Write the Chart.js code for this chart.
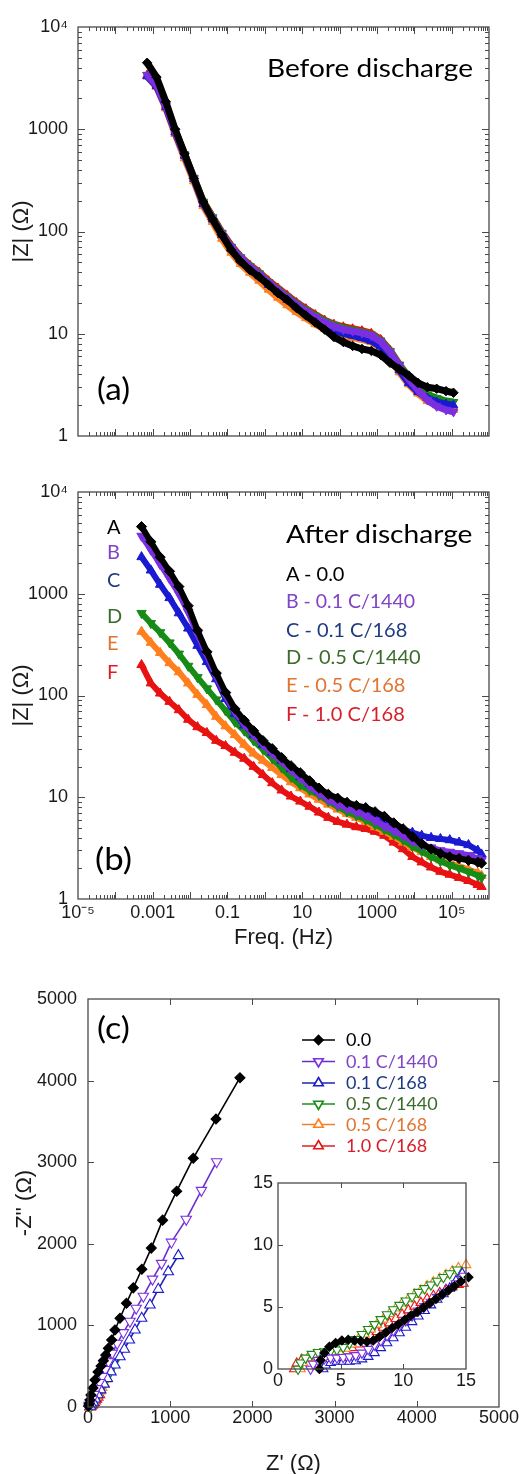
<!DOCTYPE html>
<html>
<head>
<meta charset="utf-8">
<title>Impedance before and after discharge</title>
<script src="https://cdn.jsdelivr.net/npm/chart.js@4.4.1/dist/chart.umd.min.js"></script>
<style>
  html, body { margin: 0; padding: 0; background: #fff; }
  #page { position: relative; width: 519px; height: 1474px; overflow: hidden; }
  #page canvas { position: absolute; }
  .note { position: absolute; white-space: nowrap; line-height: 1; font-family: Lato, sans-serif; }
</style>
</head>
<body>
<div id="page">
  <canvas id="chartA" width="519" height="470" style="left:0;top:0"></canvas>
  <canvas id="chartB" width="519" height="491" style="left:0;top:460px"></canvas>
  <canvas id="chartC" width="519" height="517" style="left:0;top:960px"></canvas>
  <canvas id="chartInset" width="240" height="240" style="left:240px;top:1160px"></canvas>
</div>
<script>
// series names / colours
const letters = ['A', 'B', 'C', 'D', 'E', 'F'];
const rates = ['0.0', '0.1 C/1440', '0.1 C/168', '0.5 C/1440', '0.5 C/168', '1.0 C/168'];
const markColors = ['#000000', '#7b2fe0', '#1a1ad0', '#168c16', '#ff7f1e', '#e81212'];
const lineColors = ['#000000', '#6a2fd0', '#2323b0', '#1f8f1f', '#f08030', '#e02020'];
const textColors = ['#000000', '#8044c4', '#1f3b80', '#3c6b2c', '#e07532', '#d81e2a'];

// tick labels
const zTickExp = [0, 1, 2, 3, 4];
const zTickText = ['1', '10', '100', '1000', '10\u2074'];
const fTickExp = [-5, -3, -1, 1, 3, 5];
const fTickText = ['10\u207B\u2075', '0.001', '0.1', '10', '1000', '10\u2075'];
const nyqTicks = [0, 1000, 2000, 3000, 4000, 5000];
const insetTicks = [0, 5, 10, 15];

// (a) before discharge, |Z| vs frequency
const freqA = [7.08e-4, 1.26e-3, 2.24e-3, 3.98e-3, 7.08e-3, 0.0126, 0.0224, 0.0398, 0.0708, 0.126,
  0.224, 0.398, 0.708, 1.26, 2.24, 3.98, 7.08, 12.6, 22.4, 39.8,
  70.8, 126, 224, 398, 708, 1260, 2240, 3980, 7080, 12600,
  22400, 39800, 70800, 112000];
const bfA = [4470, 3240, 1860, 1000, 575, 331, 195, 132, 93, 66, 51, 42, 36, 30, 25, 21.4, 17.8, 15.1, 12.9, 11.0,
  9.3, 8.3, 7.6, 7.1, 6.8, 6.2, 5.2, 4.5, 3.9, 3.3, 3.0, 2.9, 2.75, 2.65];
const bfB = [3400, 2700, 1700, 950, 560, 330, 190, 134, 95, 70, 55, 45, 38, 31.5, 26.5, 22.5, 19.3, 16.6, 14.5, 12.9,
  11.8, 11, 10.6, 10.2, 9.6, 8.4, 6.6, 4.9, 3.6, 2.8, 2.25, 1.95, 1.8, 1.72];
const bfC = [3300, 2650, 1650, 930, 550, 326, 186, 131, 92, 68, 53, 43.5, 36.5, 30, 25.5, 21.5, 18.3, 15.6, 13.6, 12.0,
  10.8, 10.1, 9.6, 9.1, 8.5, 7.5, 5.9, 4.4, 3.3, 2.7, 2.35, 2.15, 2.05, 2.0];
const bfD = [3400, 2700, 1720, 960, 570, 335, 196, 138, 97, 71, 56, 46, 39, 32, 27, 23, 19.7, 17, 15, 13.3,
  12.2, 11.4, 10.9, 10.4, 9.8, 8.6, 6.8, 5.0, 3.8, 3.0, 2.55, 2.35, 2.2, 2.15];
const bfE = [3300, 2600, 1600, 900, 520, 310, 178, 124, 85, 62, 48, 39.5, 33, 27, 22.5, 19, 16.3, 14.2, 12.4, 11.1,
  10.2, 9.6, 9.2, 8.8, 8.3, 7.3, 5.7, 4.2, 3.2, 2.6, 2.2, 2.0, 1.88, 1.8];
const bfF = [3400, 2720, 1720, 970, 575, 338, 198, 140, 99, 73, 57, 47, 40, 33, 28, 23.8, 20.2, 17.6, 15.4, 13.6,
  12.4, 11.7, 11.2, 10.7, 10.1, 8.8, 6.9, 5.0, 3.7, 2.9, 2.4, 2.15, 2.0, 1.9];

// (b) after discharge
const freqB = [5.01e-4, 8.91e-4, 1.58e-3, 2.82e-3, 5.01e-3, 8.91e-3, 0.0158, 0.0282, 0.0501, 0.0891,
  0.158, 0.282, 0.501, 0.891, 1.58, 2.82, 5.01, 8.91, 15.8, 28.2,
  50.1, 89.1, 158, 282, 501, 891, 1580, 2820, 5010, 8910,
  15800, 28200, 50100, 89100, 158000, 282000, 501000, 631000];
const afA = [4570, 3240, 2290, 1660, 1175, 760, 437, 269, 166, 107, 74, 57, 45, 36, 30, 24.5, 20.4, 17.4, 14.5, 12.3,
  10.7, 9.8, 8.9, 8.3, 7.9, 7.2, 6.5, 5.6, 4.9, 4.1, 3.5, 3.1, 2.8, 2.6, 2.5, 2.4, 2.3, 2.25];
const afB = [3700, 2700, 1950, 1410, 1000, 660, 400, 250, 155, 100, 69, 52, 41, 33, 27, 22.4, 18.6, 15.5, 12.9, 11.0,
  9.5, 8.5, 7.8, 7.2, 6.6, 5.9, 5.2, 4.7, 4.2, 3.7, 3.4, 3.2, 3.0, 2.9, 2.8, 2.7, 2.5, 2.4];
const afC = [2300, 1700, 1230, 910, 645, 457, 309, 214, 145, 93, 66, 51, 41, 33, 27.5, 23, 19, 15.8, 13.5, 11.5,
  10, 8.9, 8.1, 7.6, 7.1, 6.5, 5.9, 5.2, 4.8, 4.5, 4.2, 4.0, 3.9, 3.8, 3.6, 3.4, 3.0, 2.75];
const afD = [645, 513, 417, 331, 257, 195, 151, 117, 91, 71, 55, 45, 36, 29.5, 24, 19.5, 15.8, 13.2, 11.7, 10.5,
  9.1, 8.1, 7.2, 6.6, 6.0, 5.4, 4.8, 4.3, 3.8, 3.3, 2.95, 2.6, 2.35, 2.15, 2.0, 1.85, 1.7, 1.62];
const afE = [425, 331, 263, 209, 170, 132, 102, 81, 62, 50, 41, 33, 27, 23, 19.5, 16.6, 14.1, 12.3, 10.7, 9.5,
  8.5, 7.6, 6.9, 6.3, 5.75, 5.1, 4.6, 4.1, 3.6, 3.2, 2.9, 2.6, 2.4, 2.25, 2.1, 1.95, 1.8, 1.7];
const afF = [200, 132, 105, 87, 72, 58, 49, 43, 36, 32, 27.5, 24, 20, 16.6, 13.8, 11.7, 10.2, 9.1, 8.1, 7.1,
  6.3, 5.75, 5.4, 5.1, 4.9, 4.6, 4.2, 3.6, 3.1, 2.6, 2.3, 2.05, 1.86, 1.74, 1.62, 1.51, 1.38, 1.32];

// (c) Nyquist, [Z', -Z'']
const nyqA = [[1849, 4036], [1557, 3529], [1281, 3049], [1079, 2645], [908, 2290], [770, 1947], [655, 1688], [551, 1460],
  [468, 1272], [389, 1087], [328, 944], [288, 821], [247, 719], [215, 637], [187, 567], [158, 502], [122, 429],
  [85, 331], [61, 233], [36, 147], [24, 86], [12, 37], [6, 12]];
const nyqB = [[1565, 3006], [1380, 2655], [1195, 2300], [1015, 2020], [895, 1760], [785, 1567], [673, 1358], [586, 1210],
  [510, 1050], [430, 911], [355, 781], [295, 660], [250, 555], [210, 460], [175, 375], [140, 300], [105, 225],
  [75, 155], [50, 95], [30, 50], [15, 20]];
const nyqC = [[1099, 1855], [977, 1658], [855, 1442], [754, 1250], [653, 1087], [572, 944], [503, 821], [442, 707],
  [389, 616], [328, 515], [280, 430], [235, 350], [195, 280], [155, 210], [120, 150], [90, 98], [65, 58], [45, 28], [30, 10]];
const nyqD = [[330, 560], [290, 480], [252, 405], [218, 338], [188, 280], [160, 228], [135, 183], [112, 143], [92, 108],
  [74, 78], [58, 53], [45, 33], [34, 18], [25, 7]];
const nyqE = [[225, 345], [195, 290], [168, 240], [144, 197], [122, 160], [102, 126], [85, 97], [70, 72], [57, 51],
  [46, 34], [36, 20], [28, 9]];
const nyqF = [[140, 150], [120, 120], [103, 95], [88, 73], [75, 55], [63, 40], [53, 28], [44, 18], [36, 10], [29, 4], [23, 1]];

// inset, high-frequency end
const insA = [[3.3, 0], [3.4, 0.7], [3.7, 1.3], [4.1, 1.8], [4.6, 2.1], [5.1, 2.3], [5.6, 2.35], [6.1, 2.3], [6.6, 2.25],
  [7.1, 2.2], [7.6, 2.3], [8.1, 2.6], [8.6, 2.95], [9.1, 3.3], [9.6, 3.6], [10.1, 3.95], [10.6, 4.3], [11.1, 4.6],
  [11.6, 4.95], [12.1, 5.3], [12.6, 5.65], [13.1, 6.0], [13.6, 6.35], [14.1, 6.7], [14.6, 7.05], [15.2, 7.4]];
const insB = [[2.6, 0], [2.8, 0.4], [3.2, 0.7], [3.7, 0.85], [4.2, 0.9], [4.7, 0.9], [5.2, 0.95], [5.7, 1.0], [6.2, 1.1],
  [6.7, 1.3], [7.2, 1.6], [7.7, 1.95], [8.2, 2.3], [8.7, 2.7], [9.2, 3.1], [9.7, 3.5], [10.2, 3.9], [10.7, 4.3],
  [11.2, 4.7], [11.7, 5.05], [12.2, 5.4], [12.7, 5.8], [13.2, 6.15], [13.7, 6.5], [14.2, 6.9], [14.8, 7.5]];
const insC = [[3.6, 0], [3.8, 0.3], [4.2, 0.5], [4.7, 0.6], [5.2, 0.6], [5.7, 0.6], [6.2, 0.65], [6.7, 0.8], [7.2, 1.0],
  [7.7, 1.3], [8.2, 1.7], [8.7, 2.1], [9.2, 2.5], [9.7, 2.9], [10.2, 3.35], [10.7, 3.8], [11.2, 4.25], [11.7, 4.7],
  [12.2, 5.15], [12.7, 5.6], [13.2, 6.05], [13.7, 6.5], [14.2, 7.1], [14.7, 7.7]];
const insD = [[1.6, 0], [1.8, 0.5], [2.2, 0.9], [2.7, 1.2], [3.2, 1.35], [3.7, 1.4], [4.2, 1.45], [4.7, 1.55], [5.2, 1.75],
  [5.7, 2.05], [6.2, 2.4], [6.7, 2.8], [7.2, 3.2], [7.7, 3.6], [8.2, 4.0], [8.7, 4.4], [9.2, 4.8], [9.7, 5.15],
  [10.2, 5.5], [10.7, 5.85], [11.2, 6.2], [11.7, 6.5], [12.2, 6.8], [12.7, 7.1], [13.2, 7.4], [13.7, 7.7], [14.3, 8.0]];
const insE = [[1.8, 0], [2.0, 0.5], [2.4, 0.9], [2.9, 1.15], [3.4, 1.2], [3.9, 1.2], [4.4, 1.25], [4.9, 1.4], [5.4, 1.65],
  [5.9, 2.0], [6.4, 2.4], [6.9, 2.8], [7.4, 3.2], [7.9, 3.6], [8.4, 4.0], [8.9, 4.45], [9.4, 4.9], [9.9, 5.3],
  [10.4, 5.65], [10.9, 6.0], [11.4, 6.35], [11.9, 6.7], [12.4, 7.0], [12.9, 7.3], [13.4, 7.6], [13.9, 7.9], [14.4, 8.15], [15.0, 8.4]];
const insF = [[1.3, 0], [1.5, 0.45], [1.9, 0.75], [2.4, 0.9], [2.9, 0.95], [3.4, 0.95], [3.9, 1.0], [4.4, 1.1], [4.9, 1.25],
  [5.4, 1.45], [5.9, 1.7], [6.4, 2.0], [6.9, 2.3], [7.4, 2.65], [7.9, 3.0], [8.4, 3.35], [8.9, 3.7], [9.4, 4.05],
  [9.9, 4.4], [10.4, 4.75], [10.9, 5.05], [11.4, 5.35], [11.9, 5.65], [12.4, 5.9], [12.9, 6.15], [13.4, 6.4], [13.9, 6.6],
  [14.4, 6.8], [14.8, 6.9]];

const styles = ['rectRot', 'triangle', 'triangle', 'triangle', 'triangle', 'triangle'];
const rots = [0, 180, 0, 180, 0, 0];
const axisFont = "'Liberation Sans', Arial, sans-serif";

// inward tick marks on all four sides + frame
const boxTicks = {
  id: 'boxTicks',
  afterDraw(chart, args, opts) {
    const { ctx, chartArea: a } = chart;
    ctx.save();
    ctx.strokeStyle = '#4a4a4a';
    ctx.lineWidth = 1;
    ctx.beginPath();
    ['x', 'y'].forEach(id => {
      const s = chart.scales[id];
      s.ticks.forEach(t => {
        const len = t.big === false ? opts.minor : opts.major;
        const p = Math.round(s.getPixelForValue(t.value)) + 0.5;
        if (id === 'x') {
          if (p < a.left + 1 || p > a.right - 1) return;
          ctx.moveTo(p, a.bottom); ctx.lineTo(p, a.bottom - len);
          ctx.moveTo(p, a.top); ctx.lineTo(p, a.top + len);
        } else {
          if (p < a.top + 1 || p > a.bottom - 1) return;
          ctx.moveTo(a.left, p); ctx.lineTo(a.left + len, p);
          ctx.moveTo(a.right, p); ctx.lineTo(a.right - len, p);
        }
      });
    });
    ctx.stroke();
    ctx.lineWidth = 1.3;
    ctx.strokeRect(a.left, a.top, a.right - a.left, a.bottom - a.top);
    ctx.restore();
  }
};

function decadeTicks(e0, e1, exps, texts) {
  const out = [];
  for (let e = e0; e <= e1; e++) {
    for (let m = 1; m <= 9; m++) {
      if (e === e1 && m > 1) break;
      const k = exps.indexOf(e);
      out.push({ value: m * Math.pow(10, e), big: m === 1, lbl: m === 1 && k >= 0 ? texts[k] : '' });
    }
  }
  return out;
}

function axisTitle(text, pad) {
  if (!text) return { display: false };
  return { display: true, text, color: '#1a1a1a', font: { family: axisFont, size: 22 }, padding: pad };
}

function logScale(axis, e0, e1, exps, texts, size, pad, title, titlePad) {
  const horiz = axis === 'x';
  return {
    type: 'logarithmic', position: horiz ? 'bottom' : 'left',
    min: Math.pow(10, e0), max: Math.pow(10, e1),
    afterBuildTicks: s => { s.ticks = decadeTicks(e0, e1, exps, texts); },
    afterFit: s => { if (horiz) s.height = size; else s.width = size; },
    grid: { display: false, drawTicks: false }, border: { display: false },
    ticks: { autoSkip: false, maxRotation: 0, minRotation: 0, padding: pad, color: '#1a1a1a',
      font: { family: axisFont, size: 18 }, callback: (v, i, t) => (t[i] && t[i].lbl) || '' },
    title: axisTitle(title, titlePad)
  };
}

function linScale(axis, max, tickVals, size, pad, title, titlePad) {
  const horiz = axis === 'x';
  return {
    type: 'linear', position: horiz ? 'bottom' : 'left', min: 0, max,
    afterBuildTicks: s => { s.ticks = tickVals.map(v => ({ value: v })); },
    afterFit: s => { if (horiz) s.height = size; else s.width = size; },
    grid: { display: false, drawTicks: false }, border: { display: false },
    ticks: { autoSkip: false, maxRotation: 0, minRotation: 0, padding: pad, color: '#1a1a1a',
      font: { family: axisFont, size: 18 }, callback: v => String(v) },
    title: axisTitle(title, titlePad)
  };
}

function baseOptions(pad, scales, tickLen) {
  return {
    responsive: false, animation: false, devicePixelRatio: 1, events: [],
    layout: { padding: pad },
    plugins: { legend: { display: false }, tooltip: { enabled: false }, boxTicks: tickLen },
    scales
  };
}

function bandSets(freq, series, radius, lw) {
  return series.map((ys, i) => ({
    label: letters[i] + ' - ' + rates[i],
    data: freq.map((f, j) => ({ x: f, y: ys[j] })),
    showLine: true, borderColor: markColors[i], borderWidth: lw,
    backgroundColor: markColors[i],
    pointStyle: styles[i], pointRotation: rots[i],
    pointRadius: i === 0 ? radius - 0.3 : radius,
    pointBackgroundColor: markColors[i], pointBorderColor: markColors[i], pointBorderWidth: 1
  }));
}

function nyqSets(series, rDiamond, rTri, lw) {
  return series.map((pts, i) => ({
    label: rates[i],
    data: pts.map(p => ({ x: p[0], y: p[1] })),
    showLine: true, borderColor: lineColors[i], borderWidth: lw, clip: false,
    pointStyle: styles[i], pointRotation: rots[i],
    pointRadius: i === 0 ? rDiamond : rTri,
    pointBackgroundColor: i === 0 ? '#000' : '#fff',
    pointBorderColor: markColors[i], pointBorderWidth: 1.1
  }));
}

// legend of panel (c): line + marker, text as html below
const legendRowsY = [80, 101.5, 123, 144, 164.5, 186];
const legendC = {
  id: 'legendC',
  afterDraw(chart) {
    const ctx = chart.ctx;
    legendRowsY.forEach((y, i) => {
      ctx.save();
      ctx.strokeStyle = lineColors[i];
      ctx.lineWidth = 1.6;
      ctx.beginPath(); ctx.moveTo(302, y); ctx.lineTo(335, y); ctx.stroke();
      ctx.fillStyle = i === 0 ? '#000' : '#fff';
      ctx.strokeStyle = markColors[i];
      Chart.helpers.drawPoint(ctx, { pointStyle: styles[i], rotation: rots[i],
        radius: i === 0 ? 4.5 : 5.5, borderWidth: 1.1 }, 318.5, y);
      ctx.restore();
    });
  }
};

new Chart(document.getElementById('chartA'), {
  type: 'scatter',
  data: { datasets: bandSets(freqA, [bfA, bfB, bfC, bfD, bfE, bfF], 5, 7) },
  options: baseOptions({ top: 27, right: 30, left: 0, bottom: 0 }, {
    x: logScale('x', -5, 6, [], [], 34, 3, null),
    y: logScale('y', 0, 4, zTickExp, zTickText, 78, 10, '|Z| (\u03A9)', { top: 9, bottom: 0 })
  }, { major: 7, minor: 4 }),
  plugins: [boxTicks]
});

new Chart(document.getElementById('chartB'), {
  type: 'scatter',
  data: { datasets: bandSets(freqB, [afA, afB, afC, afD, afE, afF], 5.4, 6) },
  options: baseOptions({ top: 32, right: 30, left: 0, bottom: 0 }, {
    x: logScale('x', -5, 6, fTickExp, fTickText, 52, 3, 'Freq. (Hz)', { top: 0, bottom: 0 }),
    y: logScale('y', 0, 4, zTickExp, zTickText, 78, 10, '|Z| (\u03A9)', { top: 9, bottom: 0 })
  }, { major: 7, minor: 4 }),
  plugins: [boxTicks]
});

new Chart(document.getElementById('chartC'), {
  type: 'scatter',
  data: { datasets: nyqSets([nyqA, nyqB, nyqC, nyqD, nyqE, nyqF], 5, 6, 1.6) },
  options: baseOptions({ top: 39, right: 20, left: 0, bottom: 0 }, {
    x: linScale('x', 5000, nyqTicks, 70, 0, "Z' (\u03A9)", { top: 0, bottom: 0 }),
    y: linScale('y', 5000, nyqTicks, 88, 11, "-Z'' (\u03A9)", { top: 12, bottom: 0 })
  }, { major: 6, minor: 3 }),
  plugins: [boxTicks, legendC]
});

new Chart(document.getElementById('chartInset'), {
  type: 'scatter',
  data: { datasets: nyqSets([insA, insB, insC, insD, insE, insF], 4.5, 5.5, 1) },
  options: baseOptions({ top: 23, right: 14, left: 0, bottom: 0 }, {
    x: linScale('x', 15, insetTicks, 31, 1, null),
    y: linScale('y', 15, insetTicks, 38, 5, null)
  }, { major: 5, minor: 3 }),
  plugins: [boxTicks]
});

// annotations as html text
const page = document.getElementById('page');
const meas = document.createElement('canvas').getContext('2d');
function note(text, x, baseline, size, color, width) {
  meas.font = size + 'px Lato';
  const m = meas.measureText(text);
  const asc = m.fontBoundingBoxAscent, desc = m.fontBoundingBoxDescent;
  const d = document.createElement('div');
  d.className = 'note';
  d.textContent = text;
  d.style.fontSize = size + 'px';
  d.style.color = color;
  d.style.left = x + 'px';
  d.style.top = (baseline - ((size - asc - desc) / 2 + asc)) + 'px';
  if (width) {
    d.style.transformOrigin = '0 0';
    d.style.transform = 'scaleX(' + (width / m.width) + ')';
  }
  page.appendChild(d);
}

note('Before discharge', 267, 77, 25, '#000', 206);
note('(a)', 97, 400, 31, '#000', 33);
note('(b)', 95, 870, 31, '#000', 37);
note('(c)', 97, 1039, 31, '#000', 33);
note('After discharge', 286, 543, 25, '#000', 187);

const letterBase = [534, 559, 587, 622.5, 650, 679];
const legendBBase = [580.7, 608.3, 636.7, 664, 692.3, 720.7];
letters.forEach((l, i) => {
  note(l, 107, letterBase[i], 20, textColors[i]);
  const txt = l + ' - ' + rates[i];
  note(txt, 286, legendBBase[i], 20, textColors[i], i === 1 ? 129 : null);
});
rates.forEach((r, i) => {
  note(r, 346, 960 + legendRowsY[i] + 6.3, 18, textColors[i]);
});
</script>
</body>
</html>
